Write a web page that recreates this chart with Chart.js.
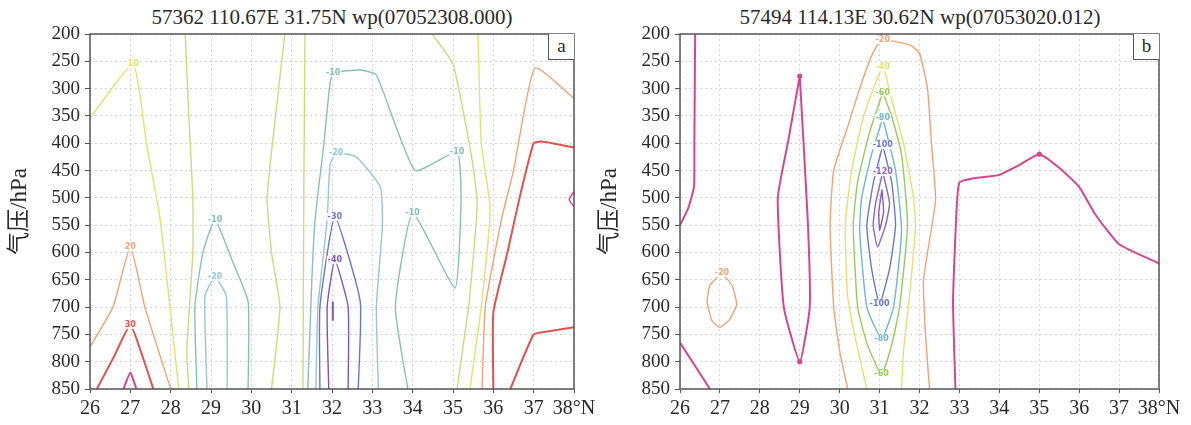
<!DOCTYPE html>
<html>
<head>
<meta charset="utf-8">
<script src="https://cdn.jsdelivr.net/npm/chart.js@4.4.1/dist/chart.umd.min.js"></script>
<style>
  body { margin: 0; background: #fff; width: 1191px; height: 425px; overflow: hidden; position: relative; }
  canvas { position: absolute; top: 0; }
  .title { position: absolute; top: 5px; font: 21px "Liberation Serif", serif; color: #2a2a2a; white-space: nowrap; transform: translateX(-50%); }
  .tag { position: absolute; top: 34px; width: 26px; height: 26px; box-sizing: border-box; border-left: 1px solid #555; border-bottom: 1px solid #555; background: #fff;
         font: 19px "Liberation Serif", serif; color: #2a2a2a; text-align: center; line-height: 24px; }
</style>
</head>
<body>
<div class="title" style="left:332px">57362 110.67E 31.75N wp(07052308.000)</div>
<div class="title" style="left:920px">57494 114.13E 30.62N wp(07053020.012)</div>
<canvas id="chartA" width="610" height="425" style="left:0"></canvas>
<canvas id="chartB" width="601" height="425" style="left:590px"></canvas>
<div class="tag" style="left:548px">a</div>
<div class="tag" style="left:1133px">b</div>
<script>
// axes
const latTicks = [26, 27, 28, 29, 30, 31, 32, 33, 34, 35, 36, 37, 38];
const pressureTicks = [200, 250, 300, 350, 400, 450, 500, 550, 600, 650, 700, 750, 800, 850];

// panel a contours: [latitude, pressure]
const aPos40L = [[26.83, 850], [27, 820], [27.15, 850]];
const aPos40R = [[38, 488], [37.88, 503], [38, 516]];
const aPos30L = [[26.17, 850], [26.6, 790], [27, 733], [27.3, 790], [27.57, 850]];
const aPos20L = [[26, 773], [26.57, 700], [27, 590], [27.36, 700], [28, 850]];
const aPos10L = [[26, 354], [27.07, 255], [27.4, 400], [27.74, 540], [28.2, 850]];
const aZero1 = [[28.36, 200], [28.45, 350], [28.55, 500], [28.55, 600], [28.4, 780], [28.45, 850]];
const aZero2 = [[30.83, 200], [30.6, 350], [30.39, 500], [30.5, 600], [30.71, 700], [30.5, 850]];
const aZero3 = [[31.33, 200], [31.3, 500], [31.28, 850]];
const aNeg10L = [[28.65, 850], [28.6, 700], [28.8, 600], [29.1, 540], [29.5, 610], [29.92, 690], [29.92, 850]];
const aNeg20L = [[28.9, 850], [28.85, 680], [29.1, 645], [29.38, 680], [29.4, 850]];
const aNeg10C = [[31.4, 850], [31.5, 650], [31.58, 540], [31.8, 400], [31.95, 290], [32.03, 271], [32.7, 266], [33.1, 275],
                 [34.06, 450], [35.1, 416], [35.2, 500], [35.05, 665], [34, 528], [33.57, 700], [33.88, 850]];
const aNeg20C = [[31.6, 850], [31.65, 700], [31.88, 540], [31.95, 440], [32.1, 418], [32.6, 425], [33.2, 480], [33.25, 550], [33.1, 700], [33.15, 850]];
const aNeg30 = [[31.7, 850], [31.7, 700], [32.07, 535], [32.7, 690], [32.65, 850]];
const aNeg40 = [[31.92, 850], [31.88, 700], [32.07, 614], [32.4, 700], [32.4, 850]];
const aNeg50 = [[32.02, 690], [32.02, 725]];
const aZeroR = [[34.48, 200], [35.0, 255], [35.45, 420], [35.6, 510], [35.4, 690], [35.1, 850]];
const aPos10R = [[35.62, 200], [35.7, 400], [35.92, 520], [35.7, 700], [35.42, 850]];
const aPos20R = [[35.72, 850], [35.8, 700], [36.2, 540], [36.5, 450], [37.03, 262], [38, 318]];
const aPos30R1 = [[36, 850], [36, 710], [36.35, 600], [36.65, 500], [37.0, 400], [37.2, 397], [38, 408]];
const aPos30R2 = [[36.42, 850], [37.0, 750], [37.3, 745], [38, 737]];
const aLabels = [[27.07, 255, '10'], [27, 590, '20'], [27, 733, '30'], [29.1, 540, '-10'], [29.1, 645, '-20'],
                 [32.03, 271, '-10'], [32.1, 418, '-20'], [32.07, 535, '-30'], [32.07, 614, '-40'], [34, 528, '-10'], [35.1, 416, '-10']];

// panel b contours
const bPos20A = [[26.38, 200], [26.36, 400], [26.35, 480], [26.2, 520], [26, 550]];
const bPos20B = [[26, 765], [26.75, 850]];
const bPos20C = [[29, 277], [28.7, 400], [28.45, 500], [28.6, 700], [29, 800], [29.25, 700], [29.2, 540], [29, 277]];
const bPos20D = [[32.9, 850], [32.84, 690], [32.93, 520], [33.0, 472], [33.3, 465], [34, 458], [34.5, 440], [35, 420],
                 [35.5, 445], [36, 480], [36.4, 530], [37, 585], [38, 620]];
const bNeg20Loop = [[27.05, 638], [26.75, 660], [26.68, 690], [26.8, 725], [27, 737], [27.25, 722], [27.42, 695], [27.3, 660], [27.05, 638]];
const bNeg20 = [[30.2, 850], [30.0, 780], [29.85, 700], [29.76, 550], [29.85, 450], [30.2, 370], [30.5, 300], [30.8, 240], [31.05, 211],
                [31.75, 220], [32.0, 235], [32.2, 300], [32.3, 400], [32.4, 505], [32.1, 650], [32.15, 750], [32.25, 850]];
const bNeg40 = [[30.68, 850], [30.4, 760], [30.2, 680], [30.14, 550], [30.3, 450], [30.6, 350], [31.08, 261], [31.3, 320],
                [31.6, 400], [31.85, 500], [31.9, 550], [31.75, 680], [31.6, 780], [31.55, 850]];
const bNeg60 = [[31.08, 307], [30.75, 380], [30.45, 470], [30.34, 550], [30.45, 700], [30.7, 770], [31.05, 823],
                [31.3, 770], [31.5, 700], [31.7, 550], [31.55, 420], [31.3, 350], [31.08, 307]];
const bNeg80 = [[31.08, 354], [30.8, 420], [30.55, 500], [30.5, 560], [30.68, 700], [31.05, 758], [31.35, 700], [31.55, 560], [31.4, 450], [31.08, 354]];
const bNeg100 = [[31.08, 404], [30.85, 470], [30.68, 550], [30.8, 630], [31.0, 694], [31.25, 630], [31.4, 550], [31.3, 470], [31.08, 404]];
const bNeg120 = [[31.08, 453], [30.9, 510], [30.84, 550], [30.95, 590], [31.15, 550], [31.25, 510], [31.08, 453]];
const bNeg140 = [[31.06, 485], [30.98, 525], [31.0, 560], [31.1, 525], [31.06, 485]];
const bLabels = [[31.08, 211, '-20'], [31.08, 261, '-40'], [31.08, 307, '-60'], [31.08, 354, '-80'], [31.08, 404, '-100'],
                 [31.08, 453, '-120'], [31.0, 694, '-100'], [31.05, 758, '-80'], [31.05, 823, '-60'], [27.05, 638, '-20']];
const bDots = [[29, 277], [29, 800], [35, 420]];

const C = {
    magenta: '#d6468a', red: '#e0524e', orange: '#f2a272', yellow: '#e6e070', ygreen: '#cadc7a',
    teal: '#86c2b2', lblue: '#96c6da', blue: '#6a76cc', purple: '#7e56b6',
    green: '#96cc5a', cyan: '#6eb8c8', bblue: '#6878d2', violet: '#8a66c6', deep: '#8c5cb0'
};
const aColors = { '10': C.yellow, '20': C.orange, '30': C.red, '-10': C.teal, '-20': C.lblue, '-30': C.blue, '-40': C.purple };
const bColors = { '-20': C.orange, '-40': C.yellow, '-60': C.green, '-80': C.cyan, '-100': C.bblue, '-120': C.violet };

const linesA = [
    [aPos40L, C.magenta, 2], [aPos40R, C.magenta, 1.5], [aPos30L, C.red, 2], [aPos20L, C.orange], [aPos10L, C.yellow],
    [aZero1, C.ygreen], [aZero2, C.ygreen], [aZero3, C.ygreen], [aNeg10L, C.teal], [aNeg20L, C.lblue],
    [aNeg10C, C.teal], [aNeg20C, C.lblue], [aNeg30, C.blue], [aNeg40, C.purple], [aNeg50, C.purple, 2],
    [aZeroR, C.ygreen], [aPos10R, C.yellow], [aPos20R, C.orange], [aPos30R1, C.red, 2], [aPos30R2, C.red, 2]
];
const linesB = [
    [bPos20A, C.magenta, 2], [bPos20B, C.magenta, 2], [bPos20C, C.magenta, 2], [bPos20D, C.magenta, 2],
    [bNeg20Loop, C.orange], [bNeg20, C.orange], [bNeg40, C.yellow], [bNeg60, C.green], [bNeg80, C.cyan],
    [bNeg100, C.bblue], [bNeg120, C.violet], [bNeg140, C.deep]
];

const serif = '"Liberation Serif", "Times New Roman", serif';

const frame = {
    id: 'frame',
    afterDatasetsDraw(chart, args, opts) {
        const { ctx, chartArea: a, scales: { x, y } } = chart;
        ctx.save();
        ctx.font = 'bold 8px "DejaVu Sans", sans-serif';
        ctx.textAlign = 'center';
        ctx.textBaseline = 'middle';
        (opts.labels || []).forEach(([lat, p, txt]) => {
            const px = x.getPixelForValue(lat), py = y.getPixelForValue(p);
            const w = ctx.measureText(txt).width + 2;
            ctx.fillStyle = 'rgba(255,255,255,0.85)';
            ctx.fillRect(px - w / 2, py - 4, w, 8);
            ctx.fillStyle = opts.colors[txt];
            ctx.fillText(txt, px, py);
        });
        ctx.fillStyle = C.magenta;
        (opts.dots || []).forEach(([lat, p]) => {
            ctx.beginPath();
            ctx.arc(x.getPixelForValue(lat), y.getPixelForValue(p), 2.6, 0, Math.PI * 2);
            ctx.fill();
        });
        ctx.strokeStyle = '#555';
        ctx.lineWidth = 1.5;
        ctx.strokeRect(a.left, a.top, a.right - a.left, a.bottom - a.top);
        ctx.restore();
    }
};

function makePanel(id, lines, padRight, extra) {
    new Chart(document.getElementById(id), {
        type: 'line',
        data: {
            datasets: lines.map(([pts, color, w]) => ({
                data: pts.map(([x, y]) => ({ x, y })),
                borderColor: color,
                borderWidth: w || 1.4,
                pointRadius: 0,
                tension: 0.15,
                fill: false
            }))
        },
        options: {
            responsive: false,
            animation: false,
            events: [],
            layout: { padding: { top: 34, right: padRight, left: 0, bottom: 0 } },
            plugins: { legend: { display: false }, tooltip: { enabled: false }, frame: extra },
            scales: {
                x: {
                    type: 'linear', min: 26, max: 38,
                    afterBuildTicks: s => { s.ticks = latTicks.map(v => ({ value: v })); },
                    ticks: { autoSkip: false, maxRotation: 0, padding: 4, color: '#2a2a2a', font: { family: serif, size: 20 },
                             callback: v => v === 38 ? '38°N' : String(v) },
                    grid: { color: '#d4d4d4', tickColor: '#555', tickLength: 4 },
                    border: { display: false, dash: [2, 3] },
                    afterFit: s => { s.height = 36; s.paddingLeft = 0; s.paddingRight = 0; }
                },
                y: {
                    type: 'linear', reverse: true, min: 200, max: 850,
                    afterBuildTicks: s => { s.ticks = pressureTicks.map(v => ({ value: v })); },
                    ticks: { autoSkip: false, padding: 5, color: '#2a2a2a', font: { family: serif, size: 19 } },
                    grid: { color: '#d4d4d4', tickColor: '#555', tickLength: 5 },
                    border: { display: false, dash: [2, 3] },
                    title: { display: true, text: '气压/hPa', color: '#2a2a2a', padding: { top: 6, bottom: 0 },
                             font: { family: '"Liberation Serif", "Noto Sans CJK SC", serif', size: 23 } },
                    afterFit: s => { s.width = 90; s.paddingTop = 0; s.paddingBottom = 0; }
                }
            }
        },
        plugins: [frame]
    });
}

makePanel('chartA', linesA, 36, { labels: aLabels, colors: aColors });
makePanel('chartB', linesB, 32, { labels: bLabels, colors: bColors, dots: bDots });
</script>
</body>
</html>
